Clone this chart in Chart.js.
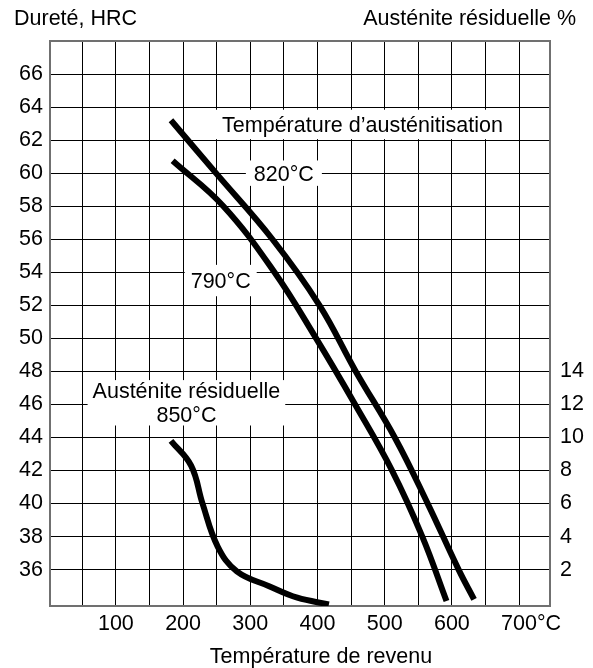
<!DOCTYPE html>
<html lang="fr">
<head>
<meta charset="UTF-8">
<title>Dureté et austénite résiduelle en fonction de la température de revenu</title>
<script src="https://cdn.jsdelivr.net/npm/chart.js"></script>
<style>
    body { margin: 0; background: #fff; }
    #wrap { width: 593px; height: 668px; }
</style>
</head>
<body>
<div id="wrap"><canvas id="chart" width="593" height="668"></canvas></div>
<script>
// Dureté (HRC) selon la température de revenu, austénitisation à 820°C
const temp820 = [182, 249, 333, 403, 457, 515, 564, 610, 633];
const hrc820  = [63.2, 60, 56, 52, 48, 44, 40, 36, 34.2];

// idem, austénitisation à 790°C
const temp790 = [184.5, 260, 336, 398, 456, 511, 556, 592];
const hrc790  = [60.75, 58, 54, 50, 46, 42, 38, 34.1];

// Austénite résiduelle (%) après austénitisation à 850°C
const tempAust = [182, 212, 229, 251.5, 280, 328, 370, 417];
const austPct  = [9.8, 8.3, 6.0, 3.4, 1.9, 1.0, 0.3, -0.1];

// graduations
const xGrid = [50, 100, 150, 200, 250, 300, 350, 400, 450, 500, 550, 600, 650, 700];
const xLabels = [100, 200, 300, 400, 500, 600, 700];
const hrcTicks = [36, 38, 40, 42, 44, 46, 48, 50, 52, 54, 56, 58, 60, 62, 64, 66];
const austTicks = [2, 4, 6, 8, 10, 12, 14];

const FONT_FAMILY = '"Liberation Sans", Arial, sans-serif';
const FONT_SIZE = 21.5;
const FONT = FONT_SIZE + 'px ' + FONT_FAMILY;
const FRAME = '#707070';

// étiquettes posées sur le graphique (centre en coordonnées de données)
const notes = [
    { lines: ['Température d’austénitisation'], x: 467, y: 62.95, padX: 10, padY: 7 },
    { lines: ['820°C'], x: 350, y: 60.0, padX: 8, padY: 5 },
    { lines: ['790°C'], x: 256, y: 53.5, padX: 6, padY: 8 },
    { lines: ['Austénite résiduelle', '850°C'], x: 205, y: 46.1, padX: 5, padY: 3 }
];

function pts(xs, ys) {
    return xs.map((x, i) => ({ x: x, y: ys[i] }));
}

const notesPlugin = {
    id: 'notes',
    beforeDatasetsDraw(chart) {
        const ctx = chart.ctx;
        const sx = chart.scales.x, sy = chart.scales.y;
        const capH = FONT_SIZE * 0.716, gap = 24;
        ctx.save();
        ctx.font = FONT;
        notes.forEach(n => {
            const cx = sx.getPixelForValue(n.x);
            const cy = sy.getPixelForValue(n.y);
            const w = Math.max(...n.lines.map(l => ctx.measureText(l).width)) + 2 * n.padX;
            const h = (n.lines.length - 1) * gap + capH + 2 * n.padY;
            ctx.fillStyle = '#fff';
            ctx.fillRect(cx - w / 2, cy - h / 2, w, h);
            ctx.fillStyle = '#000';
            ctx.textAlign = 'center';
            ctx.textBaseline = 'alphabetic';
            n.lines.forEach((l, i) => {
                const base = cy - (n.lines.length - 1) * gap / 2 + i * gap + capH / 2;
                ctx.fillText(l, cx, base);
            });
        });
        ctx.restore();
    },
    afterDraw(chart) {
        const ctx = chart.ctx;
        const a = chart.chartArea;
        ctx.save();
        ctx.font = FONT;
        ctx.fillStyle = '#000';
        ctx.textBaseline = 'alphabetic';
        ctx.textAlign = 'left';
        ctx.fillText('Dureté, HRC', a.left - 36, 25);
        ctx.textAlign = 'right';
        ctx.fillText('Austénite résiduelle %', a.right + 26, 25);
        ctx.textAlign = 'center';
        ctx.fillText('Température de revenu', (a.left + a.right) / 2 + 21, 663);
        ctx.restore();
    }
};

const lineStyle = {
    borderColor: '#000',
    borderWidth: 6,
    borderCapStyle: 'butt',
    pointRadius: 0,
    tension: 0.4,
    fill: false
};

new Chart(document.getElementById('chart').getContext('2d'), {
    type: 'line',
    data: {
        datasets: [
            Object.assign({ label: '820°C', data: pts(temp820, hrc820), yAxisID: 'y' }, lineStyle),
            Object.assign({ label: '790°C', data: pts(temp790, hrc790), yAxisID: 'y' }, lineStyle),
            Object.assign({ label: 'Austénite résiduelle 850°C', data: pts(tempAust, austPct), yAxisID: 'y1' }, lineStyle)
        ]
    },
    options: {
        responsive: false,
        animation: false,
        layout: { padding: { top: 41, left: 0, right: 0, bottom: 0 } },
        plugins: {
            legend: { display: false },
            tooltip: { enabled: false }
        },
        scales: {
            x: {
                type: 'linear',
                min: 2,
                max: 746,
                afterBuildTicks: s => { s.ticks = xGrid.map(v => ({ value: v })); },
                afterFit: s => { s.height = 62; },
                grid: { color: '#000', lineWidth: 1, drawTicks: false },
                border: { display: true, color: FRAME, width: 2 },
                ticks: {
                    padding: 5,
                    color: '#000',
                    font: { family: FONT_FAMILY, size: FONT_SIZE },
                    maxRotation: 0,
                    autoSkip: false,
                    callback: v => {
                        if (!xLabels.includes(v)) return '';
                        return v === 700 ? '    700°C' : String(v);
                    }
                }
            },
            y: {
                position: 'left',
                min: 33.8,
                max: 68,
                afterBuildTicks: s => { s.ticks = hrcTicks.concat([68]).map(v => ({ value: v })); },
                afterFit: s => { s.width = 50; },
                grid: {
                    drawTicks: false,
                    color: c => (c.tick && c.tick.value === 68) ? FRAME : '#000',
                    lineWidth: c => (c.tick && c.tick.value === 68) ? 2 : 1
                },
                border: { display: true, color: FRAME, width: 2 },
                ticks: {
                    padding: 7,
                    color: '#000',
                    font: { family: FONT_FAMILY, size: FONT_SIZE },
                    callback: v => hrcTicks.includes(v) ? String(v) : ''
                }
            },
            y1: {
                position: 'right',
                min: -0.2,
                max: 34,
                afterBuildTicks: s => { s.ticks = austTicks.map(v => ({ value: v })); },
                afterFit: s => { s.width = 43; },
                grid: { display: false, drawTicks: false },
                border: { display: true, color: FRAME, width: 2 },
                ticks: {
                    padding: 10,
                    color: '#000',
                    font: { family: FONT_FAMILY, size: FONT_SIZE },
                    callback: v => String(v)
                }
            }
        }
    },
    plugins: [notesPlugin]
});
</script>
</body>
</html>
